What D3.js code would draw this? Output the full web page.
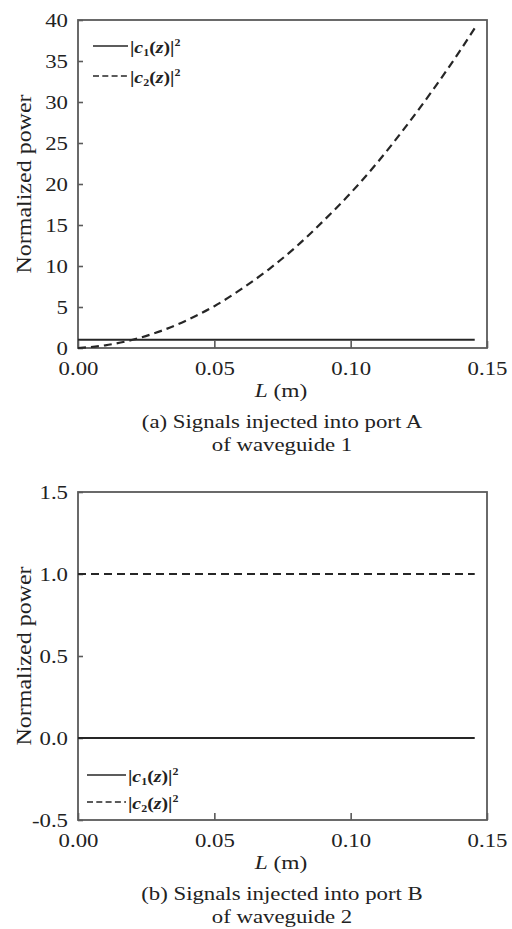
<!DOCTYPE html>
<html><head><meta charset="utf-8">
<script src="https://cdn.jsdelivr.net/npm/d3@7"></script>
<style>body{margin:0;background:#fff} svg{display:block}</style>
</head><body>
<svg id="c" width="512" height="929"></svg>
<script>
// ---- data ----
const L = [0, 0.01, 0.02, 0.03, 0.04, 0.05, 0.06, 0.07, 0.08, 0.09, 0.10, 0.11, 0.12, 0.13, 0.14, 0.1455];
const c1A = [1, 1, 1, 1, 1, 1, 1, 1, 1, 1, 1, 1, 1, 1, 1, 1];
const c2A = [0, 0.33, 1.0, 2.03, 3.4, 5.1, 7.2, 9.6, 12.35, 15.5, 18.9, 22.7, 26.9, 31.4, 36.2, 39.0];
const c1B = [0, 0, 0, 0, 0, 0, 0, 0, 0, 0, 0, 0, 0, 0, 0, 0];
const c2B = [1, 1, 1, 1, 1, 1, 1, 1, 1, 1, 1, 1, 1, 1, 1, 1];
const xTicks = [0, 0.05, 0.10, 0.15];
const xTickLabels = ["0.00", "0.05", "0.10", "0.15"];
const yTicksA = [0, 5, 10, 15, 20, 25, 30, 35, 40];
const yTickLabelsA = ["0", "5", "10", "15", "20", "25", "30", "35", "40"];
const yTicksB = [-0.5, 0, 0.5, 1.0, 1.5];
const yTickLabelsB = ["-0.5", "0.0", "0.5", "1.0", "1.5"];
const seriesSub = ["1", "2"];
const captionsA = ["(a) Signals injected into port A", "of waveguide 1"];
const captionsB = ["(b) Signals injected into port B", "of waveguide 2"];
const yTitle = "Normalized power";

// ---- drawing ----
const svg = d3.select("#c");
const SX = 1.2;
const FONT = "'Liberation Serif','Times New Roman',serif";
const FRAME = "#5a5a5a";
const INK = "#262626";

function txt(g, x, y, s, size, opts = {}) {
  const t = g.append("text")
    .attr("transform", `translate(${x},${y}) rotate(${opts.rot || 0}) scale(${SX},1)`)
    .attr("text-anchor", opts.anchor || "middle")
    .attr("font-family", FONT).attr("font-size", size).attr("fill", "#222");
  if (opts.italicL) {
    t.append("tspan").attr("font-style", "italic").text("L");
    t.append("tspan").text(" (m)");
  } else t.text(s);
  return t;
}

function legendText(g, x, y, sub) {
  const t = g.append("text")
    .attr("transform", `translate(${x},${y}) scale(${SX},1)`)
    .attr("font-family", FONT).attr("font-size", 16.5).attr("font-weight", "bold").attr("fill", "#222");
  t.append("tspan").text("|");
  t.append("tspan").attr("font-style", "italic").text("c");
  t.append("tspan").attr("font-size", 10).attr("dy", 3).text(sub);
  t.append("tspan").attr("dy", -3).text("(");
  t.append("tspan").attr("font-style", "italic").text("z");
  t.append("tspan").text(")|");
  t.append("tspan").attr("font-size", 10).attr("dy", -7).text("2");
}

function panel(cfg) {
  const g = svg.append("g");
  const x = d3.scaleLinear().domain([0, 0.15]).range([78, 487]);
  const y = d3.scaleLinear().domain(cfg.yDomain).range([cfg.bottom, cfg.top]);

  const ya = g.append("g").attr("transform", "translate(78,0)")
    .call(d3.axisLeft(y).tickValues(cfg.yTicks).tickFormat((d, i) => cfg.yLabels[i]).tickSize(-5).tickSizeOuter(0));
  const xa = g.append("g").attr("transform", `translate(0,${cfg.bottom})`)
    .call(d3.axisBottom(x).tickValues(xTicks).tickFormat((d, i) => xTickLabels[i]).tickSize(-7).tickSizeOuter(0));
  [ya, xa].forEach(a => {
    a.select(".domain").remove();
    a.selectAll(".tick line").attr("stroke", FRAME).attr("stroke-width", 1.6);
    a.selectAll("text").attr("font-family", FONT).attr("font-size", 19).attr("fill", "#222")
      .attr("transform", `scale(${SX},1)`);
  });
  ya.selectAll("text").attr("x", -10 / SX).attr("dy", 6);
  xa.selectAll("text").attr("y", 27).attr("dy", 0);

  g.append("rect").attr("x", 78).attr("y", cfg.top).attr("width", 409).attr("height", cfg.bottom - cfg.top)
    .attr("fill", "none").attr("stroke", FRAME).attr("stroke-width", 1.8);

  const line = d3.line().x(d => x(d[0])).y(d => y(d[1])).curve(d3.curveMonotoneX);
  g.append("path").datum(L.map((l, i) => [l, cfg.s1[i]])).attr("d", line)
    .attr("fill", "none").attr("stroke", INK).attr("stroke-width", 2);
  g.append("path").datum(L.map((l, i) => [l, cfg.s2[i]])).attr("d", line)
    .attr("fill", "none").attr("stroke", INK).attr("stroke-width", 2.2).attr("stroke-dasharray", "8,5");

  // legend
  const lg = cfg.legend;
  g.append("line").attr("x1", lg.x0).attr("x2", lg.x1).attr("y1", lg.y1).attr("y2", lg.y1)
    .attr("stroke", INK).attr("stroke-width", 1.4);
  g.append("line").attr("x1", lg.x0).attr("x2", lg.x1).attr("y1", lg.y2).attr("y2", lg.y2)
    .attr("stroke", INK).attr("stroke-width", 1.4).attr("stroke-dasharray", "6,3.3");
  legendText(g, lg.x1 + 2, lg.y1 + 7, seriesSub[0]);
  legendText(g, lg.x1 + 2, lg.y2 + 7, seriesSub[1]);

  // titles
  txt(g, 31, (cfg.top + cfg.bottom) / 2, yTitle, 20, { rot: -90 });
  txt(g, 281, cfg.bottom + 49, "", 19.5, { italicL: true });
  txt(g, 282, cfg.bottom + 80, cfg.captions[0], 19);
  txt(g, 282, cfg.bottom + 103, cfg.captions[1], 19);
}

panel({ top: 20, bottom: 348, yDomain: [0, 40], yTicks: yTicksA, yLabels: yTickLabelsA,
  s1: c1A, s2: c2A, captions: captionsA, legend: { x0: 93, x1: 128, y1: 46, y2: 76 } });
panel({ top: 492, bottom: 820, yDomain: [-0.5, 1.5], yTicks: yTicksB, yLabels: yTickLabelsB,
  s1: c1B, s2: c2B, captions: captionsB, legend: { x0: 87, x1: 126, y1: 775, y2: 802 } });
</script>
</body></html>
